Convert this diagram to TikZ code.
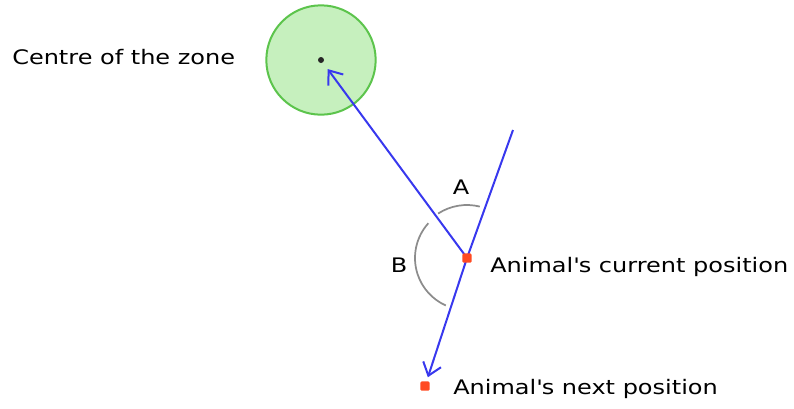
\documentclass[tikz,border=0pt]{standalone}
\usepackage{fontspec}
\setmainfont{DejaVu Sans}[FakeStretch=1.2]
\usetikzlibrary{arrows.meta,calc,backgrounds}
\definecolor{zonefill}{HTML}{C6F0BE}
\definecolor{zoneline}{HTML}{5CC44C}
\definecolor{vecblue}{HTML}{3838EE}
\definecolor{dotred}{HTML}{FF4A22}
\definecolor{arcgray}{HTML}{8C8C8C}
\tikzset{
  lbl/.style={font=\fontsize{15}{17}\selectfont, inner sep=0pt},
  reddot/.style={fill=dotred, minimum size=7pt, inner sep=0pt, rounded corners=1pt},
  vec/.style={draw=vecblue, line width=1.5pt, -{Straight Barb[length=9pt,width=14pt,line width=1.5pt]}},
  vecline/.style={draw=vecblue, line width=1.5pt},
  anglearc/.style={draw=arcgray, line width=1.3pt},
}
\begin{document}
\begin{tikzpicture}[x=0.75pt,y=-0.75pt]
\useasboundingbox (0,0) rectangle (794,408);
% positions
\node[reddot] (cur) at (467,258) {};
\node[reddot] (next) at (425,386) {};
\coordinate (top) at (513,130);
\node[lbl, anchor=west] (centrelbl) at (12,57) {Centre of the zone};
\begin{scope}[on background layer]
% zone
\node[circle, draw=zoneline, fill=zonefill, line width=1.5pt, minimum size=82pt, inner sep=0pt] (zone) at (321,60) {};
\node[circle, fill=black!85, minimum size=4.5pt, inner sep=0pt] (centre) at (321,60) {};
% vectors
\draw[vec, shorten >=6pt] (cur.center) -- (centre);
\draw[vecline] (top) -- (cur.center);
\draw[vec, shorten >=3pt] (cur.center) -- (next);
% angle arcs
\draw[anglearc] ($(cur.center)+(123:39.75pt)$) arc[start angle=123, end angle=76, radius=39.75pt];
\draw[anglearc] ($(cur.center)+(138:39pt)$) arc[start angle=138, end angle=246, radius=39pt];
\end{scope}
\node[lbl] (A) at (461,187) {A};
\node[lbl] (B) at (399,265) {B};
% labels
\node[lbl, anchor=west] (curlbl) at (490,267) {Animal\textquotesingle s current position};
\node[lbl, anchor=west] (nextlbl) at (453,389) {Animal\textquotesingle s next position};
\end{tikzpicture}
\end{document}
